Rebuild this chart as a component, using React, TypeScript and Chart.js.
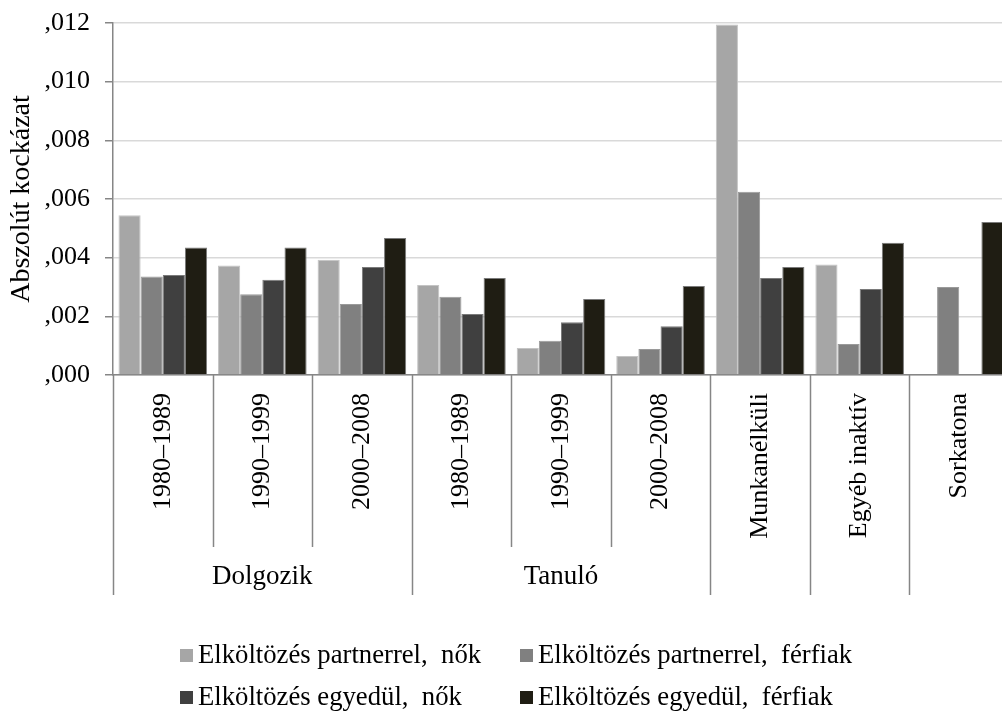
import React, { useEffect, useRef } from "react";
import { Chart, registerables } from "chart.js";

Chart.register(...registerables);

const categories = [
  "1980–1989",
  "1990–1999",
  "2000–2008",
  "1980–1989",
  "1990–1999",
  "2000–2008",
  "Munkanélküli",
  "Egyéb inaktív",
  "Sorkatona",
];

const groupLabels = ["Dolgozik", "Tanuló", "", "", ""];
const groupSpans = [3, 3, 1, 1, 1];

const seriesNames = [
  "Elköltözés partnerrel,  nők",
  "Elköltözés partnerrel,  férfiak",
  "Elköltözés egyedül,  nők",
  "Elköltözés egyedül,  férfiak",
];

const partnerNok = [0.00545, 0.00373, 0.00393, 0.00307, 0.00092, 0.00065, 0.01195, 0.00377, null];
const partnerFerfiak = [0.00336, 0.00275, 0.00242, 0.00267, 0.00117, 0.00089, 0.00625, 0.00106, 0.003];
const egyedulNok = [0.00341, 0.00325, 0.00368, 0.00208, 0.0018, 0.00166, 0.00331, 0.00293, null];
const egyedulFerfiak = [0.00435, 0.00435, 0.00467, 0.00331, 0.00259, 0.00303, 0.00368, 0.00451, 0.00522];

const yTickLabels = [",000", ",002", ",004", ",006", ",008", ",010", ",012"];

const fillColors = ["#a6a6a6", "#808080", "#404040", "#1f1d13"];
const borderColors = ["#c4c4c4", "#9a9a9a", "#7a7a7a", "#7a7a7a"];

const FONT = "'Liberation Serif', 'Times New Roman', serif";
const AXIS_COLOR = "#868686";

const groupPlugin = {
  id: "groupsAndLegend",
  afterDraw(chart: any) {
    const ctx = chart.ctx as CanvasRenderingContext2D;
    const xs = chart.scales.x;
    const bottom = chart.chartArea.bottom;
    const n = categories.length;
    const step = xs.getPixelForValue(1) - xs.getPixelForValue(0);
    const edge = (i: number) => xs.getPixelForValue(i) - step / 2;

    const groupBounds = new Set<number>();
    let acc = 0;
    groupBounds.add(0);
    groupSpans.forEach((s) => {
      acc += s;
      groupBounds.add(acc);
    });

    ctx.save();
    ctx.strokeStyle = AXIS_COLOR;
    ctx.lineWidth = 1.5;
    for (let i = 0; i <= n; i++) {
      const x = Math.round(edge(i)) + 0.5;
      const len = groupBounds.has(i) ? 220 : 172;
      ctx.beginPath();
      ctx.moveTo(x, bottom);
      ctx.lineTo(x, bottom + len);
      ctx.stroke();
    }

    ctx.fillStyle = "#000";
    ctx.font = `27px ${FONT}`;
    ctx.textAlign = "center";
    ctx.textBaseline = "alphabetic";
    let start = 0;
    groupSpans.forEach((s, gi) => {
      const label = groupLabels[gi];
      if (label) {
        const cx = (edge(start) + edge(start + s)) / 2;
        ctx.fillText(label, cx, bottom + 209);
      }
      start += s;
    });

    const colX = [180, 520];
    const rowY = [649, 691];
    ctx.font = `26.7px ${FONT}`;
    ctx.textAlign = "left";
    chart.data.datasets.forEach((ds: any, i: number) => {
      const cx = colX[i % 2];
      const ry = rowY[Math.floor(i / 2)];
      ctx.fillStyle = ds.backgroundColor;
      ctx.fillRect(cx, ry, 13, 13);
      ctx.fillStyle = "#000";
      ctx.fillText(ds.label, cx + 18, ry + 14);
    });
    ctx.restore();
  },
};

export default function App() {
  const ref = useRef<HTMLCanvasElement | null>(null);

  useEffect(() => {
    if (!ref.current) return;
    const seriesData = [partnerNok, partnerFerfiak, egyedulNok, egyedulFerfiak];
    const chart = new Chart(ref.current, {
      type: "bar",
      data: {
        labels: categories,
        datasets: seriesData.map((d, i) => ({
          label: seriesNames[i],
          data: d as any,
          backgroundColor: fillColors[i],
          borderColor: borderColors[i],
          borderWidth: 1,
          categoryPercentage: 0.89,
          barPercentage: 1.0,
        })),
      },
      options: {
        animation: false,
        responsive: false,
        events: [],
        layout: { padding: { top: 23, right: 0, bottom: 0, left: 0 } },
        plugins: {
          legend: { display: false },
          tooltip: { enabled: false },
        },
        scales: {
          x: {
            grid: { display: true, drawOnChartArea: false, drawTicks: false },
            border: { display: true, color: AXIS_COLOR, width: 1.5 },
            ticks: {
              autoSkip: false,
              minRotation: 90,
              maxRotation: 90,
              padding: 18,
              color: "#000",
              font: { family: FONT, size: 26 },
            },
            afterFit: (s: any) => {
              s.height = 341;
            },
          },
          y: {
            min: 0,
            max: 0.012,
            ticks: {
              stepSize: 0.002,
              padding: 15,
              color: "#000",
              font: { family: FONT, size: 26 },
              callback: (_v: any, i: number) => yTickLabels[i],
            },
            grid: { color: "#d9d9d9", lineWidth: 1.5, tickColor: AXIS_COLOR, tickLength: 8 },
            border: { display: true, color: AXIS_COLOR, width: 1.5 },
            title: {
              display: true,
              text: "Abszolút kockázat",
              color: "#000",
              font: { family: FONT, size: 28 },
              padding: { top: 5, bottom: 0 },
            },
            afterFit: (s: any) => {
              s.width = 113;
              s.paddingTop = 10;
              s.paddingBottom = 10;
            },
          },
        },
      },
      plugins: [groupPlugin],
    });
    return () => chart.destroy();
  }, []);

  return (
    <div
      style={{
        position: "absolute",
        left: 0,
        top: 0,
        width: 1002,
        height: 716,
        overflow: "hidden",
        background: "#fff",
      }}
    >
      <canvas ref={ref} width={1009} height={716} style={{ display: "block" }} />
    </div>
  );
}
